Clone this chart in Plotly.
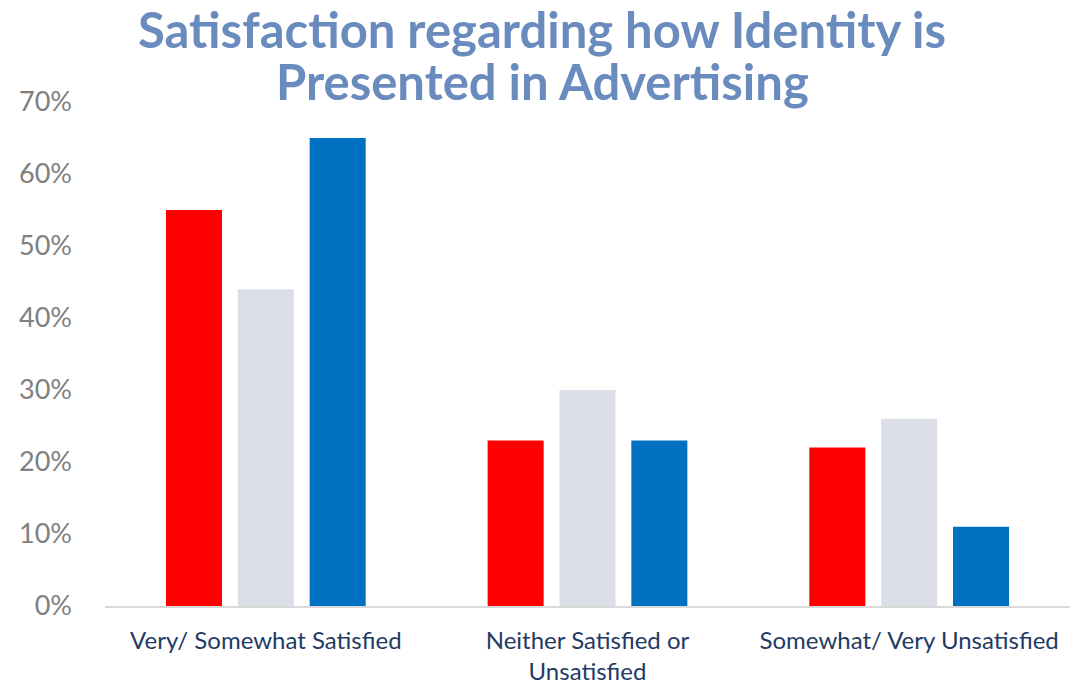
import plotly.graph_objects as go

categories = ["Very/ Somewhat Satisfied", "Neither Satisfied or<br>Unsatisfied", "Somewhat/ Very Unsatisfied"]
series_names = ["Series 1", "Series 2", "Series 3"]
values_red = [55, 23, 22]
values_gray = [44, 30, 26]
values_blue = [65, 23, 11]
colors = ["#ff0000", "#dcdee8", "#0070c0"]
tick_vals = [0, 10, 20, 30, 40, 50, 60, 70]
tick_text = ["0%", "10%", "20%", "30%", "40%", "50%", "60%", "70%"]
title_lines = ["Satisfaction regarding how Identity is", "Presented in Advertising"]

fig = go.Figure()
for name, vals, col in zip(series_names, [values_red, values_gray, values_blue], colors):
    fig.add_trace(go.Bar(x=categories, y=vals, name=name, marker=dict(color=col, line=dict(width=0))))

plot_left, plot_w = 105, 965
plot_top, plot_h = 102, 504
for line, yc in zip(title_lines, [29, 81]):
    fig.add_annotation(
        text="<b>" + line + "</b>", xref="paper", yref="paper",
        x=(542 - plot_left) / plot_w, xanchor="center",
        y=(plot_top + plot_h - yc) / plot_h, yanchor="middle",
        showarrow=False, font=dict(family="Lato", size=49, color="#6a8bbd"),
    )

fig.update_layout(
    width=1086, height=684,
    margin=dict(l=105, r=16, t=102, b=78),
    paper_bgcolor="white", plot_bgcolor="white",
    barmode="group", bargap=0.33, bargroupgap=0.22,
    showlegend=False,
    xaxis=dict(
        showline=True, linecolor="#d9d9d9", linewidth=2,
        ticks="", showgrid=False, automargin=False,
        tickfont=dict(family="Lato", size=24, color="#1f3b63"),
        ticklabelstandoff=12,
    ),
    yaxis=dict(
        range=[0, 70], tickvals=tick_vals, ticktext=tick_text,
        showgrid=False, zeroline=False, showline=False, ticks="", automargin=False,
        tickfont=dict(family="Lato", size=27, color="#808080"),
        ticklabelstandoff=32,
    ),
)

fig.write_html("out.html")
